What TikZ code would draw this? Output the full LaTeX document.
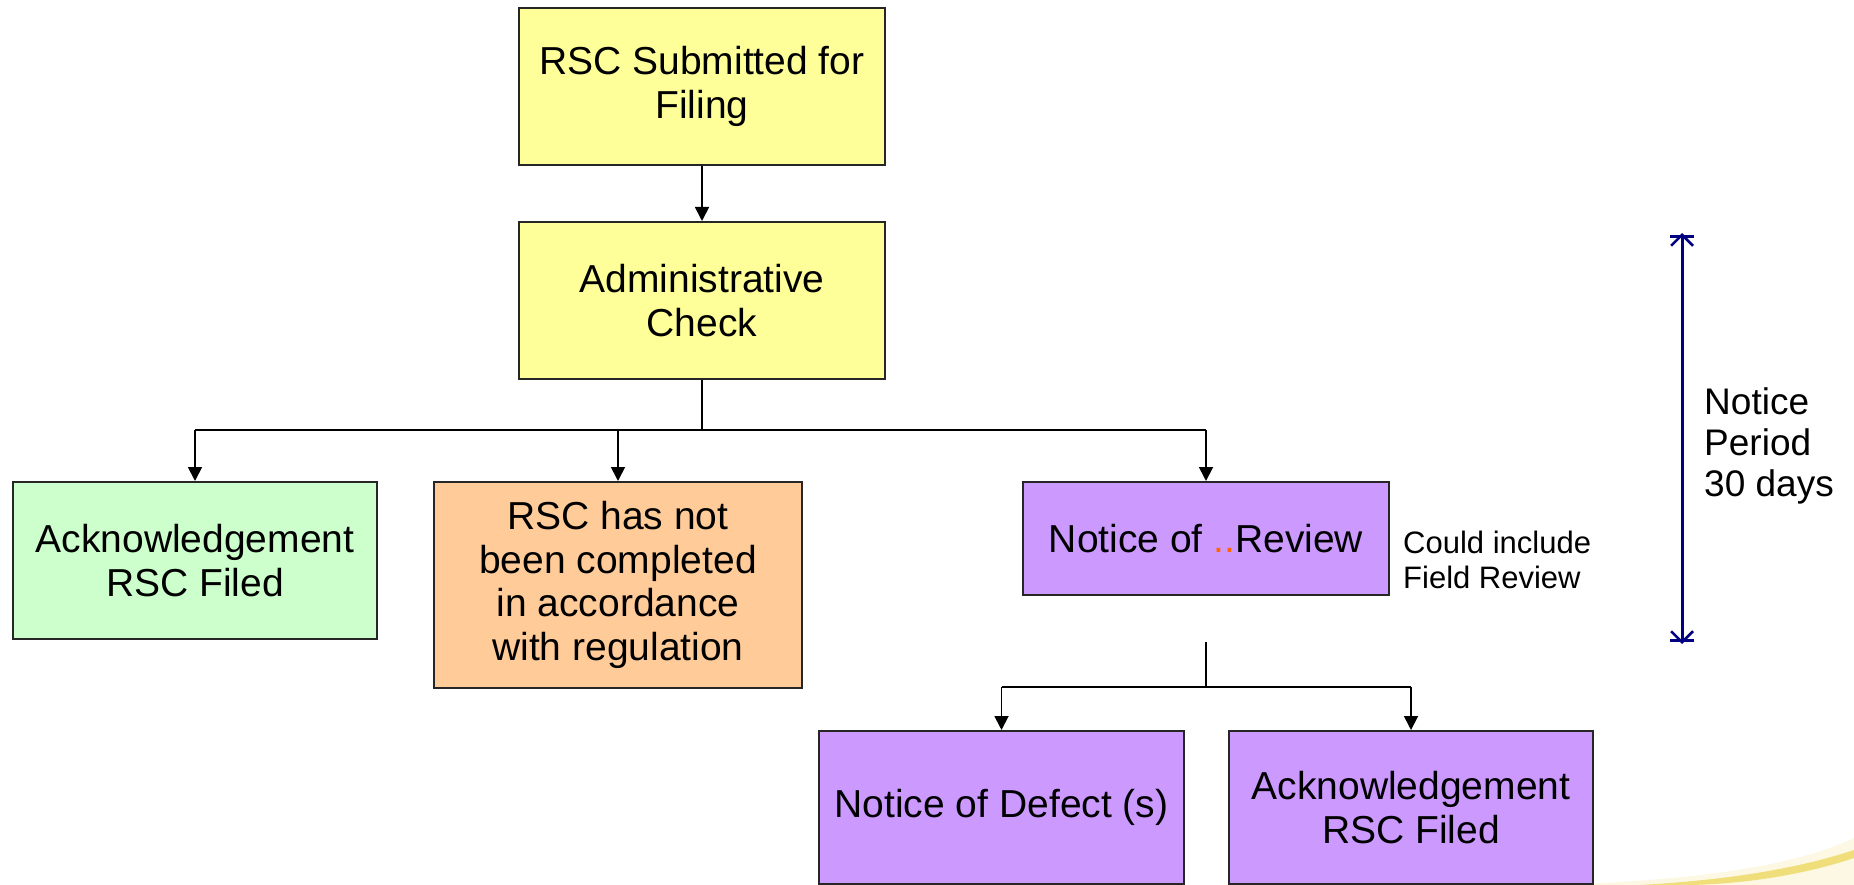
\documentclass[tikz,border=0pt]{standalone}
\usepackage{fontspec}
\setmainfont{Liberation Sans}
\usetikzlibrary{arrows.meta}
\definecolor{boxyellow}{HTML}{FFFF99}
\definecolor{boxgreen}{HTML}{CCFFCC}
\definecolor{boxorange}{HTML}{FFCC99}
\definecolor{boxpurple}{HTML}{CC99FF}
\definecolor{dotorange}{HTML}{FF6600}
\definecolor{navyline}{HTML}{000080}
\definecolor{swoosh}{HTML}{E8D040}
\begin{document}
\begin{tikzpicture}[x=1pt,y=-1pt,
  box/.style={draw=black!85, line width=2pt, align=center, inner sep=0pt,
    font=\fontsize{39}{43.5}\selectfont},
  wire/.style={draw=black, line width=1.8pt},
  conn/.style={wire, -{Triangle[width=14pt,length=14pt]}},
  dim/.style={draw=navyline, line width=3pt,
    {Straight Barb[length=11pt,width=22pt,line width=2.5pt]}-{Straight Barb[length=11pt,width=22pt,line width=2.5pt]}},
  dimbar/.style={draw=navyline, line width=3pt},
  note/.style={align=left, inner sep=0pt}
]
\useasboundingbox (0,0) rectangle (1854,885);

% decorative swoosh
\fill[swoosh, opacity=0.15] (1560,885) .. controls (1690,880) and (1790,868) .. (1854,838) -- (1854,885) -- cycle;
\fill[swoosh, opacity=0.65] (1640,885) .. controls (1730,880) and (1800,868) .. (1854,850) -- (1854,858) .. controls (1800,876) and (1740,884) .. (1690,885) -- cycle;

% boxes
\node[box, fill=boxyellow, minimum width=366pt, minimum height=157pt] (submit) at (702,86.5) {RSC Submitted for\\Filing};
\node[box, fill=boxyellow, minimum width=366pt, minimum height=157pt] (admin) at (702,300.5) {Administrative\\Check};
\node[box, fill=boxgreen, minimum width=364pt, minimum height=157pt] (ackA) at (195,560.5) {Acknowledgement\\RSC Filed};
\node[box, fill=boxorange, minimum width=368pt, minimum height=206pt] (notdone) at (618,585) {RSC has not\\been completed\\in accordance\\with regulation};
\node[box, fill=boxpurple, minimum width=366pt, minimum height=113pt] (review) at (1206,538.5) {Notice of {\color{dotorange}..}Review};
\node[box, fill=boxpurple, minimum width=365pt, minimum height=153pt] (defect) at (1001.5,807.5) {Notice of Defect (s)};
\node[box, fill=boxpurple, minimum width=364pt, minimum height=153pt] (ackB) at (1411,807.5) {Acknowledgement\\RSC Filed};

% notes
\node[note, font=\fontsize{31}{35}\selectfont, anchor=west] (could) at (1403,560) {Could include\\Field Review};
\node[note, font=\fontsize{37}{41}\selectfont, anchor=west] (period) at (1704,446) {Notice\\Period\\30 days};

% connectors
\draw[conn] (submit) -- (admin);
\coordinate (j1) at (702,430);
\draw[wire] (admin.south) -- (j1);
\draw[wire] (ackA.north |- j1) -- (review.north |- j1);
\draw[conn] (ackA.north |- j1) -- (ackA.north);
\draw[conn] (notdone.north |- j1) -- (notdone.north);
\draw[conn] (review.north |- j1) -- (review.north);

\coordinate (j2top) at (1206,642);
\coordinate (j2) at (1206,687);
\draw[wire] (j2top) -- (j2);
\draw[wire] (defect.north |- j2) -- (ackB.north |- j2);
\draw[conn] (defect.north |- j2) -- (defect.north);
\draw[conn] (ackB.north |- j2) -- (ackB.north);

% notice period dimension
\coordinate (ptop) at (1682,237);
\coordinate (pbot) at (1682,640);
\draw[dim] ([yshift=4pt]ptop) -- ([yshift=-4pt]pbot);
\draw[dimbar] ([xshift=-12pt]ptop) -- ([xshift=12pt]ptop);
\draw[dimbar] ([xshift=-12pt]pbot) -- ([xshift=12pt]pbot);
\end{tikzpicture}
\end{document}
